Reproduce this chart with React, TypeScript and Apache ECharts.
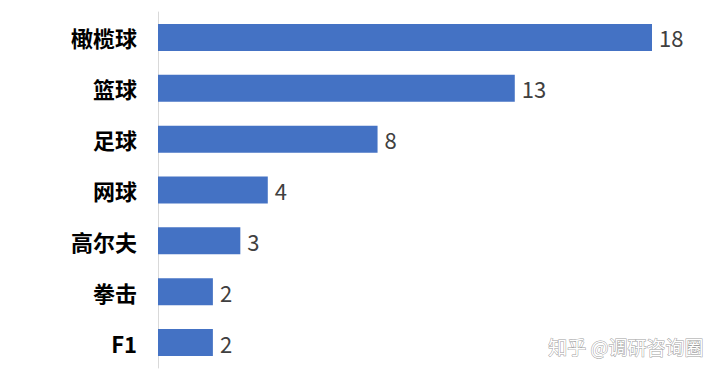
import React, { useEffect, useRef } from "react";
import * as echarts from "echarts";

const categories = ["橄榄球", "篮球", "足球", "网球", "高尔夫", "拳击", "F1"];
const values = [18, 13, 8, 4, 3, 2, 2];

export default function App() {
  const ref = useRef<HTMLDivElement>(null);
  useEffect(() => {
    if (!ref.current) return;
    const chart = echarts.init(ref.current, null, { renderer: "svg" });
    chart.setOption({
      animation: false,
      backgroundColor: "#ffffff",
      grid: { left: 158, width: 494, top: 12, height: 356 },
      xAxis: {
        type: "value",
        min: 0,
        max: 18,
        show: false,
      },
      yAxis: {
        type: "category",
        data: categories,
        inverse: true,
        axisLine: { show: true, lineStyle: { color: "#d9d9d9", width: 1 } },
        axisTick: { show: false },
        axisLabel: {
          margin: 21,
          fontSize: 22,
          fontWeight: "bold",
          color: "#000000",
          fontFamily: "Noto Sans CJK SC",
        },
      },
      series: [
        {
          type: "bar",
          data: values,
          barWidth: 27,
          itemStyle: { color: "#4472C4" },
          label: {
            show: true,
            position: "right",
            distance: 7,
            fontSize: 22,
            color: "#404040",
            fontFamily: "Noto Sans CJK SC",
          },
        },
      ],
      graphic: [
        {
          type: "text",
          right: 16,
          top: 336,
          style: {
            text: "知乎 @调研咨询圈",
            fontSize: 19,
            fontFamily: "Noto Sans CJK SC",
            fill: "#ffffff",
            stroke: "#a0a0a0",
            lineWidth: 1,
          },
        },
      ],
    });
    return () => chart.dispose();
  }, []);
  return <div ref={ref} style={{ width: 720, height: 381, position: "absolute", left: 0, top: 0 }} />;
}
